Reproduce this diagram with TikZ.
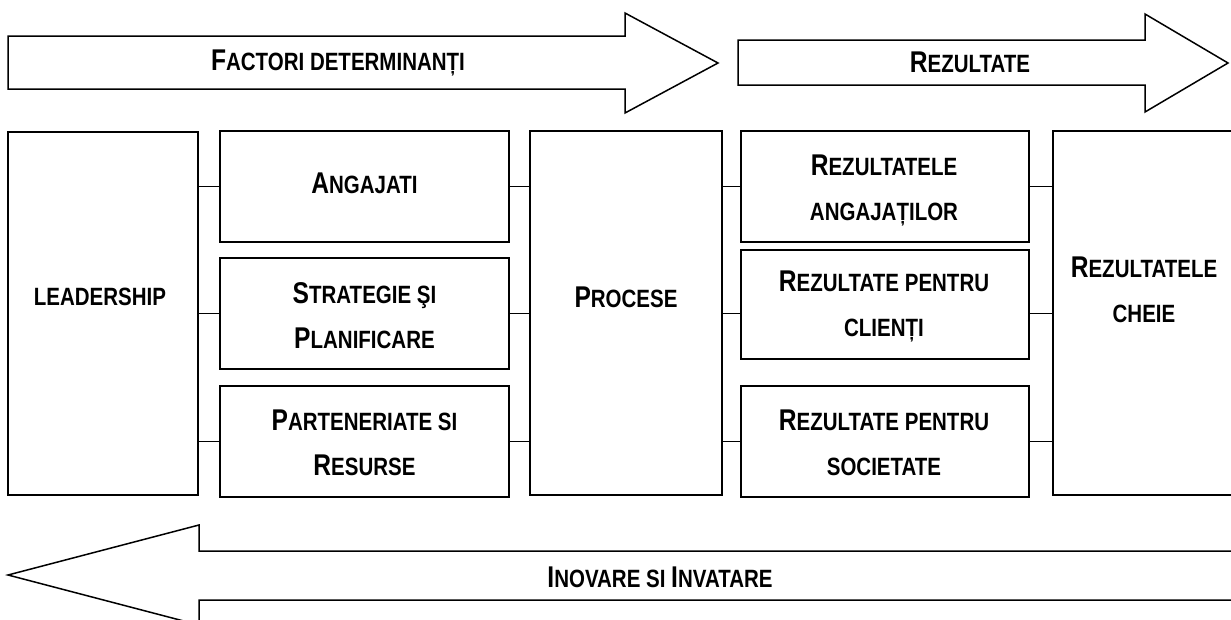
\documentclass[tikz,border=0pt]{standalone}
\usepackage{fontspec}
\setmainfont{Liberation Sans}[FakeStretch=0.82]
\newcommand\BC[1]{{\fontsize{30}{45}\selectfont #1}}
\tikzset{
  box/.style={draw, line width=1.8pt, inner sep=0pt},
  txt/.style={font=\fontsize{25}{45}\selectfont\bfseries, align=center, inner sep=0pt},
  conn/.style={line width=1.8pt},
  bigarrow/.style={draw, line width=1.5pt, line join=miter, fill=white}
}
\begin{document}
\begin{tikzpicture}[x=1pt,y=-1pt]
\useasboundingbox (0,0) rectangle (1231,619);
\clip (0,0) rectangle (1231,619);
% big arrows
\draw[bigarrow] (8,36) -- (625,36) -- (625,13) -- (718,63) -- (625,113) -- (625,89) -- (8,89) -- cycle;
\node[txt] (tFact) at (338,63) {\BC{F}ACTORI DETERMINANȚI};
\draw[bigarrow] (738,40) -- (1145,40) -- (1145,14) -- (1228,63) -- (1145,112) -- (1145,85) -- (738,85) -- cycle;
\node[txt] (tRez) at (970,62) {\BC{R}EZULTATE};
\draw[bigarrow] (1245,551) -- (199,551) -- (199,525) -- (8,575) -- (199,625) -- (199,600) -- (1245,600);
\node[txt] (tIno) at (660,577) {\BC{I}NOVARE SI \BC{I}NVATARE};
% boxes
\node[box, minimum width=190pt, minimum height=363pt] (lead) at (103,313.5) {};
\node[box, minimum width=289pt, minimum height=111pt] (ang) at (364.5,186.5) {};
\node[box, minimum width=289pt, minimum height=111pt] (strat) at (364.5,313.5) {};
\node[box, minimum width=289pt, minimum height=111pt] (part) at (364.5,441.5) {};
\node[box, minimum width=192pt, minimum height=364pt] (proc) at (626,313) {};
\node[box, minimum width=288pt, minimum height=111pt] (res1) at (885,186.5) {};
\node[box, minimum width=288pt, minimum height=109pt] (res2) at (885,304.5) {};
\node[box, minimum width=288pt, minimum height=111pt] (res3) at (885,441.5) {};
\node[box, minimum width=197pt, minimum height=364pt] (cheie) at (1151.5,313) {};
% texts
\node[txt] (tLead) at (100,297) {LEADERSHIP};
\node[txt] (tAng) at (364.5,183) {\BC{A}NGAJATI};
\node[txt] (tStrat) at (364.5,316) {\BC{S}TRATEGIE ŞI\\\BC{P}LANIFICARE};
\node[txt] (tPart) at (364.5,443) {\BC{P}ARTENERIATE SI\\\BC{R}ESURSE};
\node[txt] (tProc) at (626,297) {\BC{P}ROCESE};
\node[txt] (tRes1) at (884,190) {\BC{R}EZULTATELE\\ANGAJAȚILOR};
\node[txt] (tRes2) at (884,306) {\BC{R}EZULTATE PENTRU\\CLIENȚI};
\node[txt] (tRes3) at (884,443) {\BC{R}EZULTATE PENTRU\\SOCIETATE};
\node[txt] (tCheie) at (1144,290) {\BC{R}EZULTATELE\\CHEIE};
% connectors
\draw[conn] (lead.east |- ang.west) -- (ang.west);
\draw[conn] (lead.east |- strat.west) -- (strat.west);
\draw[conn] (lead.east |- part.west) -- (part.west);
\draw[conn] (ang.east) -- (proc.west |- ang.east);
\draw[conn] (strat.east) -- (proc.west |- strat.east);
\draw[conn] (part.east) -- (proc.west |- part.east);
\draw[conn] (proc.east |- res1.west) -- (res1.west);
\draw[conn] (proc.east |- strat.east) -- (res2.west |- strat.east);
\draw[conn] (proc.east |- res3.west) -- (res3.west);
\draw[conn] (res1.east) -- (cheie.west |- res1.east);
\draw[conn] (res2.east |- strat.east) -- (cheie.west |- strat.east);
\draw[conn] (res3.east) -- (cheie.west |- res3.east);
\end{tikzpicture}
\end{document}
